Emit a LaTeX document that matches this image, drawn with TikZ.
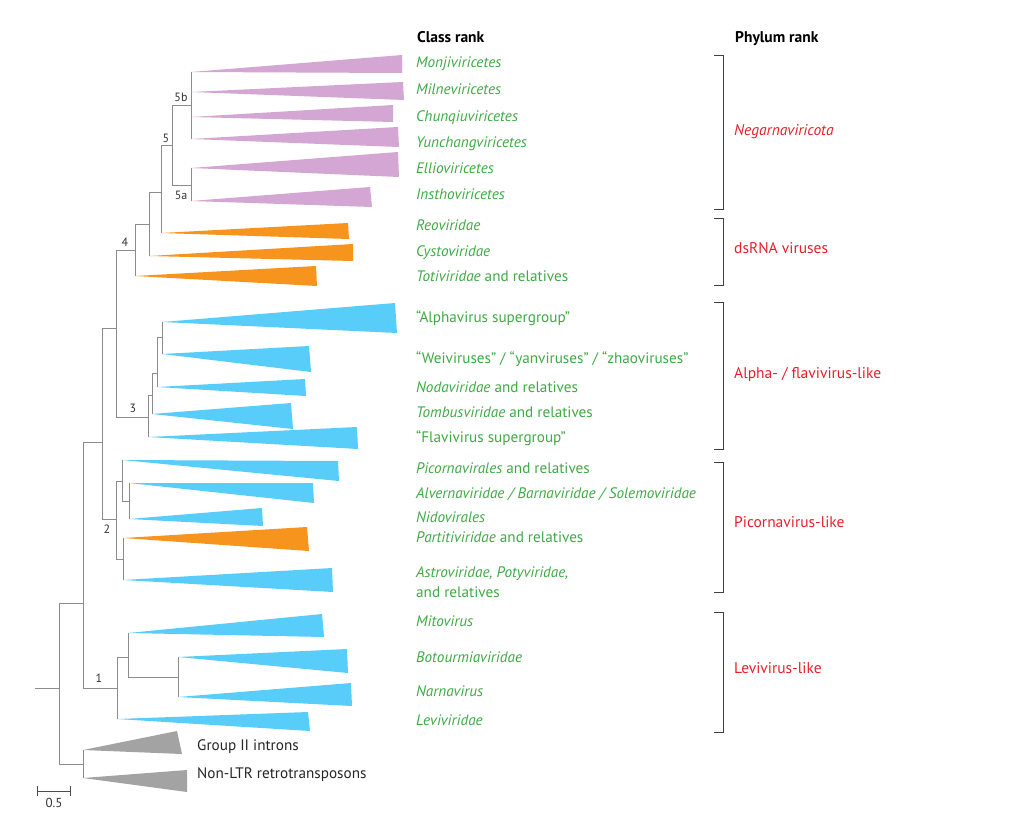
\documentclass[tikz,border=0pt]{standalone}
\usepackage{fontspec}
\setmainfont{PT Sans}
\definecolor{grn}{HTML}{3FAA45}
\definecolor{rd}{HTML}{E8202A}
\definecolor{purp}{HTML}{D4A6D3}
\definecolor{orng}{HTML}{F7941E}
\definecolor{blu}{HTML}{58CDFA}
\definecolor{gtri}{HTML}{A3A3A3}
\definecolor{brn}{HTML}{8C8C8C}
\begin{document}
\begin{tikzpicture}[x=1pt,y=-1pt,
  branch/.style={draw=brn,line width=0.9pt},
  brk/.style={draw=black!75,line width=0.9pt},
  txt/.style={anchor=west,inner sep=0pt,text height=0.7em,text depth=0.2em,yshift=-1.5pt},
  cls/.style={txt,text=grn,font=\fontsize{15.2}{17}\selectfont},
  phy/.style={txt,text=rd,font=\fontsize{15.5}{17}\selectfont},
  hdr/.style={txt,text=black,font=\fontsize{15.5}{17}\selectfont\bfseries},
  ogl/.style={txt,text=black!85,font=\fontsize{15.2}{17}\selectfont},
  nlab/.style={text=black!80,font=\fontsize{12}{14}\selectfont,inner sep=0pt}]
\useasboundingbox (0,0) rectangle (1024,814);
\fill[white] (0,0) rectangle (1024,814);

% ---------- tips ----------
\coordinate (monji) at (191,72);
\coordinate (milne) at (191,92);
\coordinate (chunq) at (191,117);
\coordinate (yunch) at (191,139);
\coordinate (ellio) at (191,168);
\coordinate (insth) at (191,201);
\coordinate (reo) at (161,233);
\coordinate (cysto) at (149,256);
\coordinate (toti) at (135,276);
\coordinate (alpha) at (162,322);
\coordinate (weiv) at (162,354);
\coordinate (noda) at (157,387);
\coordinate (tomb) at (152,414);
\coordinate (flavi) at (148,437);
\coordinate (picor) at (122,460);
\coordinate (alver) at (129,483);
\coordinate (nido) at (129,519);
\coordinate (parti) at (123,538);
\coordinate (astro) at (123,580);
\coordinate (mito) at (128,633);
\coordinate (botou) at (178,657);
\coordinate (narna) at (178,697);
\coordinate (levi) at (117,719);
\coordinate (grpii) at (83,750);
\coordinate (nonltr) at (83,778);

% ---------- internal nodes ----------
\coordinate (n5b) at (191,105);
\coordinate (n5a) at (191,185);
\coordinate (n55) at (172,145);
\coordinate (n5) at (161,192);
\coordinate (nA) at (149,224);
\coordinate (nB) at (135,250);
\coordinate (n4) at (116,328);
\coordinate (n3c) at (162,337);
\coordinate (n3b) at (157,373);
\coordinate (n3a) at (152,395);
\coordinate (n3) at (148,417);
\coordinate (n2a) at (122,481);
\coordinate (n2b) at (129,501);
\coordinate (n2c) at (123,559);
\coordinate (n2) at (116,519);
\coordinate (nX) at (102,442);
\coordinate (n1b) at (178,677);
\coordinate (n1a) at (128,657);
\coordinate (n1) at (117,688);
\coordinate (nY) at (83,603);
\coordinate (nO) at (83,764);
\coordinate (root) at (59,688);
\coordinate (stub) at (35,688);

% ---------- branches ----------
\draw[branch] (stub) -- (root);
\foreach \p/\c in {n5b/monji,n5b/milne,n5b/chunq,n5b/yunch,
  n5a/ellio,n5a/insth,n55/n5b,n55/n5a,n5/n55,n5/reo,nA/n5,nA/cysto,
  nB/nA,nB/toti,n4/nB,n4/n3,n3/n3a,n3/flavi,n3a/n3b,n3a/tomb,n3b/n3c,n3b/noda,
  n3c/alpha,n3c/weiv,n2/n2a,n2/n2c,n2a/picor,n2a/n2b,n2b/alver,n2b/nido,
  n2c/parti,n2c/astro,nX/n4,nX/n2,nY/nX,nY/n1,n1/n1a,n1/levi,n1a/mito,n1a/n1b,
  n1b/botou,n1b/narna,root/nY,root/nO,nO/grpii,nO/nonltr}
  \draw[branch] (\p) |- (\c);

% ---------- collapsed clades ----------
\fill[purp] (monji) -- (402,55) -- (402,73) -- cycle;
\fill[purp] (milne) -- (403,82) -- (404,100) -- cycle;
\fill[purp] (chunq) -- (393,105) -- (393,122) -- cycle;
\fill[purp] (yunch) -- (398,127) -- (399,147) -- cycle;
\fill[purp] (ellio) -- (398,152) -- (399,177) -- cycle;
\fill[purp] (insth) -- (370,187) -- (372,207) -- cycle;
\fill[orng] (reo) -- (348,223) -- (349,239) -- cycle;
\fill[orng] (cysto) -- (353,244) -- (353,261) -- cycle;
\fill[orng] (toti) -- (316,266) -- (317,286) -- cycle;
\fill[blu] (alpha) -- (395,303) -- (397,333) -- cycle;
\fill[blu] (weiv) -- (309,346) -- (311,372) -- cycle;
\fill[blu] (noda) -- (305,379) -- (306,396) -- cycle;
\fill[blu] (tomb) -- (291,403) -- (293,429) -- cycle;
\fill[blu] (flavi) -- (357,427) -- (358,449) -- cycle;
\fill[blu] (picor) -- (338,461) -- (339,481) -- cycle;
\fill[blu] (alver) -- (313,483) -- (314,503) -- cycle;
\fill[blu] (nido) -- (262,508) -- (263,526) -- cycle;
\fill[orng] (parti) -- (307,527) -- (309,551) -- cycle;
\fill[blu] (astro) -- (332,568) -- (333,592) -- cycle;
\fill[blu] (mito) -- (322,614) -- (324,637) -- cycle;
\fill[blu] (botou) -- (347,649) -- (348,673) -- cycle;
\fill[blu] (narna) -- (351,683) -- (352,706) -- cycle;
\fill[blu] (levi) -- (308,712) -- (310,731) -- cycle;
\fill[gtri] (grpii) -- (177,731) -- (182,754) -- cycle;
\fill[gtri] (nonltr) -- (187,770) -- (187,792) -- cycle;

% ---------- node labels ----------
\node[nlab] (l5b) at (181,97) {5b};
\node[nlab] (l5a) at (181,195) {5a};
\node[nlab] (l5) at (166,138) {5};
\node[nlab] (l4) at (125,242) {4};
\node[nlab] (l3) at (133,408) {3};
\node[nlab] (l2) at (107,529) {2};
\node[nlab] (l1) at (99,678) {1};

% ---------- scale bar ----------
\coordinate (sb1) at (37,791);
\coordinate (sb2) at (70,791);
\draw[branch,draw=black!70] (sb1) -- (sb2);
\draw[branch,draw=black!70] ([yshift=-5]sb1) -- ([yshift=5]sb1);
\draw[branch,draw=black!70] ([yshift=-5]sb2) -- ([yshift=5]sb2);
\node[nlab,font=\fontsize{13}{15}\selectfont] (sbl) at (54,803) {0.5};

% ---------- headers ----------
\node[hdr] (hcls) at (417,38) {Class rank};
\node[hdr] (hphy) at (735,38) {Phylum rank};

% ---------- class labels ----------
\node[cls] (tmonji) at (416,63) {\textit{Monjiviricetes}};
\node[cls] (tmilne) at (416,90) {\textit{Milneviricetes}};
\node[cls] (tchunq) at (416,117) {\textit{Chunqiuviricetes}};
\node[cls] (tyunch) at (416,143) {\textit{Yunchangviricetes}};
\node[cls] (tellio) at (416,169) {\textit{Ellioviricetes}};
\node[cls] (tinsth) at (416,195) {\textit{Insthoviricetes}};
\node[cls] (treo) at (416,226) {\textit{Reoviridae}};
\node[cls] (tcysto) at (416,252) {\textit{Cystoviridae}};
\node[cls] (ttoti) at (416,277) {\textit{Totiviridae} and relatives};
\node[cls] (talpha) at (416,318) {“Alphavirus supergroup”};
\node[cls] (tweiv) at (416,359) {“Weiviruses” / “yanviruses” / “zhaoviruses”};
\node[cls] (tnoda) at (416,388) {\textit{Nodaviridae} and relatives};
\node[cls] (ttomb) at (416,413) {\textit{Tombusviridae} and relatives};
\node[cls] (tflavi) at (416,438) {“Flavivirus supergroup”};
\node[cls] (tpicor) at (416,469) {\textit{Picornavirales} and relatives};
\node[cls] (talver) at (416,494) {\textit{Alvernaviridae / Barnaviridae / Solemoviridae}};
\node[cls] (tnido) at (416,518) {\textit{Nidovirales}};
\node[cls] (tparti) at (416,538) {\textit{Partitiviridae} and relatives};
\node[cls] (tastro) at (416,573) {\textit{Astroviridae, Potyviridae,}};
\node[cls] (tastro2) at (416,593) {and relatives};
\node[cls] (tmito) at (416,622) {\textit{Mitovirus}};
\node[cls] (tbotou) at (416,658) {\textit{Botourmiaviridae}};
\node[cls] (tnarna) at (416,692) {\textit{Narnavirus}};
\node[cls] (tlevi) at (416,721) {\textit{Leviviridae}};
\node[ogl] (tgrpii) at (197,746) {Group II introns};
\node[ogl] (tnonltr) at (197,774) {Non-LTR retrotransposons};

% ---------- phylum brackets ----------
\draw[brk] (714,55) -- (723,55) -- (723,209) -- (714,209);
\draw[brk] (714,218) -- (723,218) -- (723,285) -- (714,285);
\draw[brk] (714,302) -- (723,302) -- (723,449) -- (714,449);
\draw[brk] (714,462) -- (723,462) -- (723,592) -- (714,592);
\draw[brk] (714,612) -- (723,612) -- (723,732) -- (714,732);
\node[phy] (pneg) at (734,131) {\textit{Negarnaviricota}};
\node[phy] (pds) at (734,249) {dsRNA viruses};
\node[phy] (palp) at (734,374) {Alpha- / flavivirus-like};
\node[phy] (ppic) at (734,523) {Picornavirus-like};
\node[phy] (plev) at (734,669) {Levivirus-like};
\end{tikzpicture}
\end{document}
